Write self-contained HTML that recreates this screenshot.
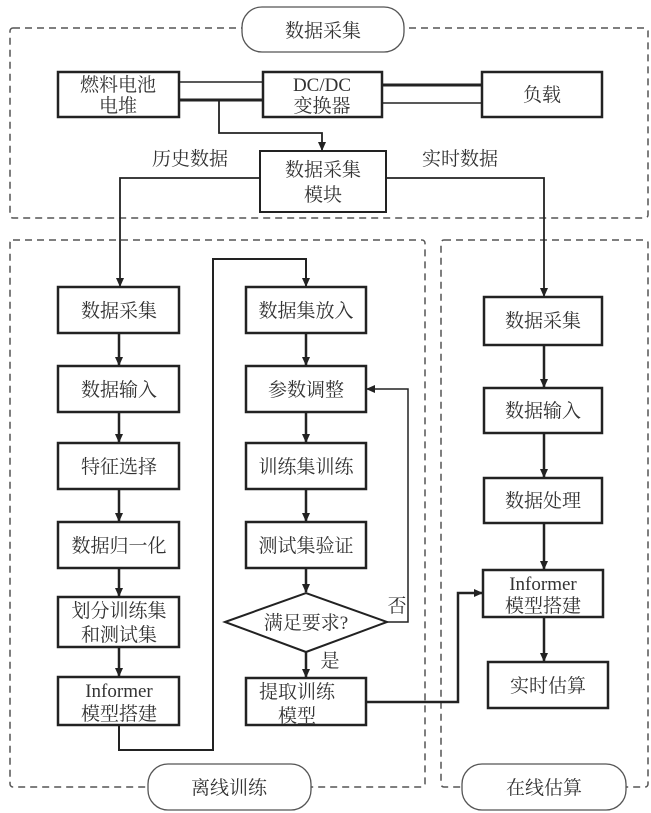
<!DOCTYPE html>
<html><head><meta charset="utf-8"><style>
html,body{margin:0;padding:0;background:#fff;}
svg{display:block;}
text{font-family:"Liberation Serif","Noto Serif CJK SC","Noto Sans CJK SC",serif;fill:#333;font-size:19px;text-anchor:middle;}
</style></head><body>
<svg width="651" height="813" viewBox="0 0 651 813" xmlns="http://www.w3.org/2000/svg">
<defs><marker id="a" markerWidth="10" markerHeight="10" refX="8" refY="5" orient="auto" markerUnits="userSpaceOnUse"><path d="M0,1 L9,5 L0,9 Z" fill="#222"/></marker></defs>
<g fill="none" stroke="#555" stroke-width="1.5" stroke-dasharray="7,5">
<rect x="10" y="28" width="638" height="190" rx="3"/>
<rect x="10" y="240" width="415" height="547" rx="3"/>
<rect x="441" y="240" width="207" height="547" rx="3"/>
</g>
<g fill="#fff" stroke="#555" stroke-width="1.3">
<rect x="242" y="7" width="162" height="45" rx="20"/>
<rect x="148" y="764" width="163" height="46" rx="20"/>
<rect x="462" y="764" width="164" height="46" rx="20"/>
</g>
<text x="323" y="37" font-size="21">数据采集</text>
<text x="229" y="794" font-size="21">离线训练</text>
<text x="544" y="794" font-size="21">在线估算</text>
<g stroke="#222" fill="none">
<line x1="179" y1="82" x2="263" y2="82" stroke-width="1.5"/>
<line x1="179" y1="100" x2="263" y2="100" stroke-width="3"/>
<line x1="382" y1="85" x2="482" y2="85" stroke-width="3"/>
<line x1="382" y1="103" x2="482" y2="103" stroke-width="1.5"/>
<polyline points="219,100 219,133 322,133 322,150" stroke-width="1.8" marker-end="url(#a)"/>
<polyline points="260,178 120,178 120,286" stroke-width="1.8" marker-end="url(#a)"/>
<polyline points="386,178 544,178 544,296" stroke-width="1.8" marker-end="url(#a)"/>
</g>
<g fill="#fff" stroke="#222" stroke-width="2.5">
<rect x="58" y="72" width="121" height="45"/>
<rect x="263" y="72" width="119" height="45"/>
<rect x="482" y="72" width="120" height="45"/>
<rect x="260" y="151" width="126" height="61" stroke-width="2"/>
</g>
<text x="118" y="91">燃料电池</text><text x="118" y="112">电堆</text>
<text x="322" y="91">DC/DC</text><text x="322" y="112">变换器</text>
<text x="542" y="101">负载</text>
<text x="323" y="176">数据采集</text><text x="323" y="201">模块</text>
<text x="190" y="165">历史数据</text><text x="460" y="165">实时数据</text>
<g stroke="#222" stroke-width="2.5" fill="none" marker-end="url(#a)">
<line x1="119" y1="333" x2="119" y2="365"/>
<line x1="119" y1="412" x2="119" y2="442"/>
<line x1="119" y1="489" x2="119" y2="521"/>
<line x1="119" y1="568" x2="119" y2="596"/>
<line x1="119" y1="647" x2="119" y2="676"/>
<line x1="306" y1="333" x2="306" y2="365"/>
<line x1="306" y1="412" x2="306" y2="442"/>
<line x1="306" y1="489" x2="306" y2="521"/>
<line x1="306" y1="568" x2="306" y2="592"/>
<line x1="306" y1="652" x2="306" y2="677"/>
<line x1="544" y1="345" x2="544" y2="387"/>
<line x1="544" y1="433" x2="544" y2="477"/>
<line x1="544" y1="523" x2="544" y2="569"/>
<line x1="544" y1="617" x2="544" y2="661"/>
</g>
<g stroke="#222" stroke-width="2" fill="none" marker-end="url(#a)">
<polyline points="119,725 119,750 213,750 213,259 306,259 306,286"/>
<polyline points="387,622 408,622 408,389 367,389" stroke-width="1.5"/>
<polyline points="366,702 458,702 458,593 482,593" stroke-width="2.5"/>
</g>
<g fill="#fff" stroke="#222" stroke-width="2.5">
<rect x="58" y="287" width="121" height="46"/>
<rect x="58" y="366" width="121" height="46"/>
<rect x="58" y="443" width="121" height="46"/>
<rect x="58" y="522" width="121" height="46"/>
<rect x="58" y="597" width="121" height="50"/>
<rect x="58" y="677" width="121" height="48"/>
<rect x="246" y="287" width="120" height="46"/>
<rect x="246" y="366" width="120" height="46"/>
<rect x="246" y="443" width="120" height="46"/>
<rect x="246" y="522" width="120" height="46"/>
<polygon points="225,622 306,593 387,622 306,652" stroke-width="2"/>
<rect x="246" y="678" width="120" height="47"/>
<rect x="484" y="297" width="118" height="48"/>
<rect x="484" y="388" width="118" height="45"/>
<rect x="484" y="478" width="118" height="45"/>
<rect x="483" y="570" width="120" height="47"/>
<rect x="488" y="662" width="120" height="46"/>
</g>
<text x="119" y="317">数据采集</text>
<text x="119" y="396">数据输入</text>
<text x="119" y="473">特征选择</text>
<text x="119" y="552">数据归一化</text>
<text x="119" y="617">划分训练集</text><text x="119" y="641">和测试集</text>
<text x="119" y="697">Informer</text><text x="119" y="720">模型搭建</text>
<text x="306" y="317">数据集放入</text>
<text x="306" y="396">参数调整</text>
<text x="306" y="473">训练集训练</text>
<text x="306" y="552">测试集验证</text>
<text x="306" y="629">满足要求?</text>
<text x="297" y="698">提取训练</text><text x="297" y="722">模型</text>
<text x="397" y="612">否</text><text x="330" y="667">是</text>
<text x="543" y="327">数据采集</text>
<text x="543" y="417">数据输入</text>
<text x="543" y="507">数据处理</text>
<text x="543" y="590">Informer</text><text x="543" y="612">模型搭建</text>
<text x="548" y="692">实时估算</text>
</svg>
</body></html>
